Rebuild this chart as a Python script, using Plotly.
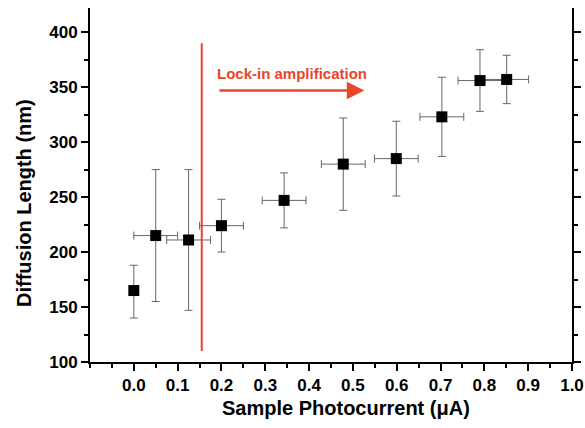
import plotly.graph_objects as go

# Data
photocurrent = [0.0, 0.05, 0.125, 0.2, 0.343, 0.478, 0.599, 0.703, 0.79, 0.851]
diffusion_length = [165, 215, 211, 224, 247, 280, 285, 323, 356, 357]
y_err_plus = [23, 60, 64, 24, 25, 42, 34, 36, 28, 22]
y_err_minus = [25, 60, 64, 24, 25, 42, 34, 36, 28, 22]
x_err = [0, 0.05, 0.05, 0.05, 0.05, 0.05, 0.05, 0.05, 0.05, 0.05]

x_tick_vals = [0.0, 0.1, 0.2, 0.3, 0.4, 0.5, 0.6, 0.7, 0.8, 0.9, 1.0]
x_tick_text = ["0.0", "0.1", "0.2", "0.3", "0.4", "0.5", "0.6", "0.7", "0.8", "0.9", "1.0"]
y_tick_vals = [100, 150, 200, 250, 300, 350, 400]

lockin_x = 0.155
lockin_y = [110, 390]
arrow_x = [0.192, 0.526]
arrow_y = 347
label_text = "Lock-in amplification"
x_title = "Sample Photocurrent (μA)"
y_title = "Diffusion Length (nm)"

RED = "#E8472B"
FONT = "Liberation Sans, Arial, sans-serif"

fig = go.Figure()
fig.add_trace(go.Scatter(
    x=photocurrent, y=diffusion_length, mode="markers",
    marker=dict(symbol="square", size=11, color="black"),
    error_y=dict(type="data", symmetric=False, array=y_err_plus, arrayminus=y_err_minus,
                 color="#666666", thickness=1, width=4),
    error_x=dict(type="data", array=x_err, color="#666666", thickness=1, width=4),
    showlegend=False,
))

# vertical red line
fig.add_trace(go.Scatter(
    x=[lockin_x, lockin_x], y=lockin_y, mode="lines",
    line=dict(color=RED, width=2), showlegend=False, hoverinfo="skip",
))

# arrow
fig.add_annotation(
    x=arrow_x[1], y=arrow_y, ax=arrow_x[0], ay=arrow_y,
    xref="x", yref="y", axref="x", ayref="y",
    showarrow=True, arrowhead=2, arrowsize=1.4, arrowwidth=2.5, arrowcolor=RED, text="",
)
fig.add_annotation(
    x=arrow_x[0] - 0.006, y=arrow_y + 6, xref="x", yref="y",
    text="<b>" + label_text + "</b>", showarrow=False,
    xanchor="left", yanchor="bottom",
    font=dict(family=FONT, size=15, color=RED),
)

# axis titles as annotations
fig.add_annotation(
    x=0.531, y=-0.13, xref="paper", yref="paper", text="<b>" + x_title + "</b>",
    showarrow=False, xanchor="center", yanchor="middle",
    font=dict(family=FONT, size=20, color="black"),
)
fig.add_annotation(
    x=-0.137, y=0.449, xref="paper", yref="paper", text="<b>" + y_title + "</b>",
    showarrow=False, xanchor="center", yanchor="middle", textangle=-90,
    font=dict(family=FONT, size=20, color="black"),
)

axis_common = dict(
    showline=True, linecolor="black", linewidth=2,
    ticks="outside", tickcolor="black", tickwidth=2, ticklen=7,
    showgrid=False, zeroline=False, automargin=False,
    tickfont=dict(family=FONT, size=17, color="black", weight="bold"),
)

fig.update_layout(
    width=585, height=428,
    margin=dict(l=90, r=13, t=8, b=66),
    paper_bgcolor="white", plot_bgcolor="white",
    xaxis=dict(
        range=[-0.1, 1.0], tickvals=x_tick_vals, ticktext=x_tick_text,
        minor=dict(dtick=0.05, tick0=-0.05, ticks="outside", ticklen=4, tickwidth=2, tickcolor="black"),
        **axis_common,
    ),
    yaxis=dict(
        range=[100, 422], tickvals=y_tick_vals, mirror="ticks",
        minor=dict(dtick=25, tick0=100, ticks="outside", ticklen=4, tickwidth=2, tickcolor="black"),
        **axis_common,
    ),
)

fig.write_html("out.html", config={"displayModeBar": False},
               post_script="document.body.style.margin='0';")
